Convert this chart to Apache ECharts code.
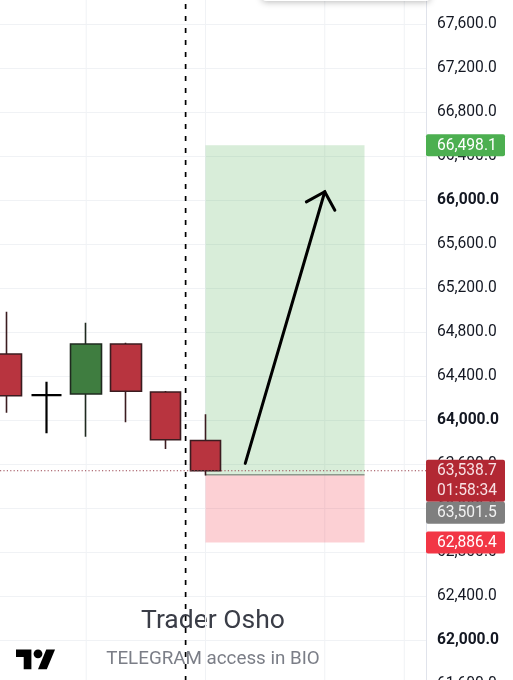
<!DOCTYPE html>
<html><head><meta charset="utf-8">
<script src="https://cdn.jsdelivr.net/npm/echarts@6/dist/echarts.min.js"></script>
<style>html,body{margin:0;padding:0;background:#fff}#c{width:513px;height:680px}</style>
</head><body><div id="c"></div>
<script>
// ---- data ----
const candleIndex = [0, 1, 2, 3, 4, 5];
const openVals  = [64600, 64227, 64236, 64691, 64255, 63814];
const closeVals = [64221, 64227, 64691, 64261, 63821, 63538.7];
const lowVals   = [64066, 63879, 63848, 63979, 63736, 63495];
const highVals  = [64985, 64348, 64885, 64703, 64264, 64052];

const vGridX = [2, 5, 8, 10];
const sessionBreakX = [4.5];
const positionStartX = 5, positionEndX = 9;
const entryPrice = 63501.5, targetPrice = 66498.1, stopPrice = 62886.4;
const lastPrice = 63538.7;
const arrowFrom = [6, 63606], arrowTo = [8, 66075];

const priceTagValues = [66498.1, 63538.7, 63501.5, 62886.4];
const priceTagSubtext = ['', '01:58:34', '', ''];
const boldTicks = [62000, 64000, 66000];
const yMin = 61600, yMax = 68000, yStep = 400;
const xMin = -0.1685, xMax = 10.546;
const watermarkTitle = 'Trader Osho';
const watermarkSub = 'TELEGRAM access in BIO';

// ---- styles ----
const tagStyles = [
  {fill: '#4caf50', text: '#ffffff'},
  {fill: '#b22833', text: '#f8e0e3'},
  {fill: '#7f7f7f', text: '#f2f2f2'},
  {fill: '#f23645', text: '#ffffff'}
];
const FONT = 'Roboto, "Noto Sans", sans-serif';
const LABEL_SIZE = 15.6;
const fmt = v => v.toLocaleString('en-US', {minimumFractionDigits: 1, maximumFractionDigits: 1});

const chart = echarts.init(document.getElementById('c'), null, {renderer: 'canvas'});

const candleData = candleIndex.map((x, i) => {
  const item = {value: [x, openVals[i], closeVals[i], lowVals[i], highVals[i]]};
  if (openVals[i] === closeVals[i]) item.itemStyle = {color: '#000', color0: '#000', borderColor: '#000', borderColor0: '#000', borderWidth: 2.2};
  return item;
});

function fullHeightLine(params, api, xv, style) {
  const cs = params.coordSys;
  const p = api.coord([xv, yMin]);
  return {type: 'line', shape: {x1: p[0], y1: cs.y, x2: p[0], y2: cs.y + cs.height}, style: style};
}

function tagLayout(api) {
  let prevBottom = -Infinity;
  return priceTagValues.map((v, i) => {
    const y = api.coord([0, v])[1];
    const h = priceTagSubtext[i] ? 42 : 22;
    let top = y - 11;
    if (top < prevBottom) top = prevBottom;
    prevBottom = top + h;
    return {top, h};
  });
}

const option = {
  animation: false,
  backgroundColor: '#ffffff',
  grid: {left: 0, right: 87, top: -20, bottom: -4, containLabel: false, outerBoundsMode: 'none'},
  xAxis: {type: 'value', min: xMin, max: xMax, show: false},
  yAxis: {
    type: 'value', position: 'right', min: yMin, max: yMax, interval: yStep,
    axisLine: {show: true, onZero: false, lineStyle: {color: '#e0e3eb', width: 1}},
    axisTick: {show: false},
    splitLine: {show: true, lineStyle: {color: '#f0f2f5', width: 1}},
    axisLabel: {
      margin: 11, color: '#131722', fontSize: LABEL_SIZE, fontFamily: FONT, align: 'left',
      formatter: v => boldTicks.includes(v) ? '{b|' + fmt(v) + '}' : fmt(v),
      rich: {b: {fontWeight: 'bold', fontSize: LABEL_SIZE, fontFamily: FONT, color: '#131722'}}
    }
  },
  graphic: [
    {type: 'text', x: 213, y: 621, z: 0, style: {text: watermarkTitle, font: '26.5px ' + FONT, fill: '#3a3d47', align: 'center', verticalAlign: 'middle'}},
    {type: 'text', x: 213, y: 659, z: 0, style: {text: watermarkSub, font: '18.8px ' + FONT, fill: '#7b7e87', align: 'center', verticalAlign: 'middle'}},
    {type: 'polygon', z: 0, shape: {points: [[14,22],[7,22],[7,11],[0,11],[0,4],[14,4]].map(p => [16 + p[0]*1.1, 645 + p[1]*1.1])}, style: {fill: '#000'}},
    {type: 'polygon', z: 0, shape: {points: [[28,22],[20,22],[27.5,4],[35.5,4]].map(p => [16 + p[0]*1.1, 645 + p[1]*1.1])}, style: {fill: '#000'}},
    {type: 'circle', z: 0, shape: {cx: 16 + 20*1.1, cy: 645 + 8*1.1, r: 4.4}, style: {fill: '#000'}},
    {type: 'rect', z: 100, shape: {x: 262, y: -30, width: 168, height: 31, r: 4}, style: {fill: '#fff', shadowBlur: 7, shadowColor: 'rgba(0,0,0,0.28)', shadowOffsetY: 1}}
  ],
  series: [
    { // vertical grid lines
      type: 'custom', z: 1, silent: true,
      data: vGridX.map(x => [x, yMin]), encode: {x: 0, y: 1},
      renderItem: (params, api) => fullHeightLine(params, api, api.value(0), {stroke: '#f0f2f5', lineWidth: 1})
    },
    { // position boxes
      type: 'custom', z: 2, silent: true,
      data: [[positionStartX, targetPrice, positionEndX, stopPrice, entryPrice]],
      encode: {x: [0, 2], y: [1, 3, 4]},
      renderItem: (params, api) => {
        const tl = api.coord([api.value(0), api.value(1)]);
        const br = api.coord([api.value(2), api.value(3)]);
        const en = api.coord([api.value(0), api.value(4)]);
        return {type: 'group', children: [
          {type: 'rect', shape: {x: tl[0], y: tl[1], width: br[0]-tl[0], height: en[1]-tl[1]}, style: {fill: 'rgba(76,175,80,0.22)'}},
          {type: 'rect', shape: {x: tl[0], y: en[1], width: br[0]-tl[0], height: br[1]-en[1]}, style: {fill: 'rgba(242,54,69,0.23)'}},
          {type: 'line', shape: {x1: tl[0], y1: en[1], x2: br[0], y2: en[1]}, style: {stroke: '#8d998d', lineWidth: 1.5}}
        ]};
      }
    },
    {
      type: 'candlestick', z: 5, data: candleData, encode: {x: 0, y: [1, 2, 3, 4]},
      barWidth: 31, clip: true,
      itemStyle: {color: '#3f7d40', color0: '#b8343f', borderColor: '#1f2a1f', borderColor0: '#3b1c20', borderWidth: 1.6}
    },
    { // last price dotted line
      type: 'custom', z: 6, silent: true,
      data: [[0, lastPrice]], encode: {x: 0, y: 1},
      renderItem: (params, api) => {
        const cs = params.coordSys; const y = api.coord([0, api.value(1)])[1];
        return {type: 'line', shape: {x1: cs.x, y1: y, x2: cs.x + cs.width, y2: y}, style: {stroke: '#9a4550', lineWidth: 1, lineDash: [1.2, 2.2]}};
      }
    },
    { // session break dashed line
      type: 'custom', z: 7, silent: true,
      data: sessionBreakX.map(x => [x, yMin]), encode: {x: 0, y: 1},
      renderItem: (params, api) => fullHeightLine(params, api, api.value(0), {stroke: '#000', lineWidth: 1.7, lineDash: [5, 7]})
    },
    { // arrow
      type: 'custom', z: 8, silent: true,
      data: [[arrowFrom[0], arrowFrom[1], arrowTo[0], arrowTo[1]]], encode: {x: [0, 2], y: [1, 3]},
      renderItem: (params, api) => {
        const a = api.coord([api.value(0), api.value(1)]);
        const b = api.coord([api.value(2), api.value(3)]);
        const dx = a[0]-b[0], dy = a[1]-b[1], L = Math.hypot(dx, dy);
        const ux = dx/L, uy = dy/L, hl = 21, c = Math.cos(Math.PI/4), s = Math.sin(Math.PI/4);
        const left = [b[0] + hl*(ux*c - uy*s), b[1] + hl*(ux*s + uy*c)];
        const right = [b[0] + hl*(ux*c + uy*s), b[1] + hl*(-ux*s + uy*c)];
        return {type: 'group', children: [
          {type: 'line', shape: {x1: a[0], y1: a[1], x2: b[0], y2: b[1]}, style: {stroke: '#000', lineWidth: 3, lineCap: 'round'}},
          {type: 'polyline', shape: {points: [left, b, right]}, style: {stroke: '#000', lineWidth: 3, lineCap: 'round', lineJoin: 'miter', fill: null}}
        ]};
      }
    },
    { // price tags on axis
      type: 'custom', z: 10, silent: true, clip: false,
      data: priceTagValues.map((v, i) => [0, v, i]), encode: {x: 0, y: 1},
      renderItem: (params, api) => {
        const cs = params.coordSys; const i = api.value(2);
        const lay = tagLayout(api)[i]; const st = tagStyles[i];
        const x0 = cs.x + cs.width;
        const children = [
          {type: 'rect', shape: {x: x0, y: lay.top, width: 79, height: lay.h, r: 2}, style: {fill: st.fill}},
          {type: 'text', style: {x: x0 + 11, y: lay.top + 11.5, text: fmt(priceTagValues[i]), fill: st.text, font: LABEL_SIZE + 'px ' + FONT, align: 'left', verticalAlign: 'middle'}}
        ];
        if (priceTagSubtext[i]) children.push({type: 'text', style: {x: x0 + 11, y: lay.top + 31, text: priceTagSubtext[i], fill: st.text, font: LABEL_SIZE + 'px ' + FONT, align: 'left', verticalAlign: 'middle'}});
        return {type: 'group', children};
      }
    }
  ]
};
chart.setOption(option);
</script></body></html>
